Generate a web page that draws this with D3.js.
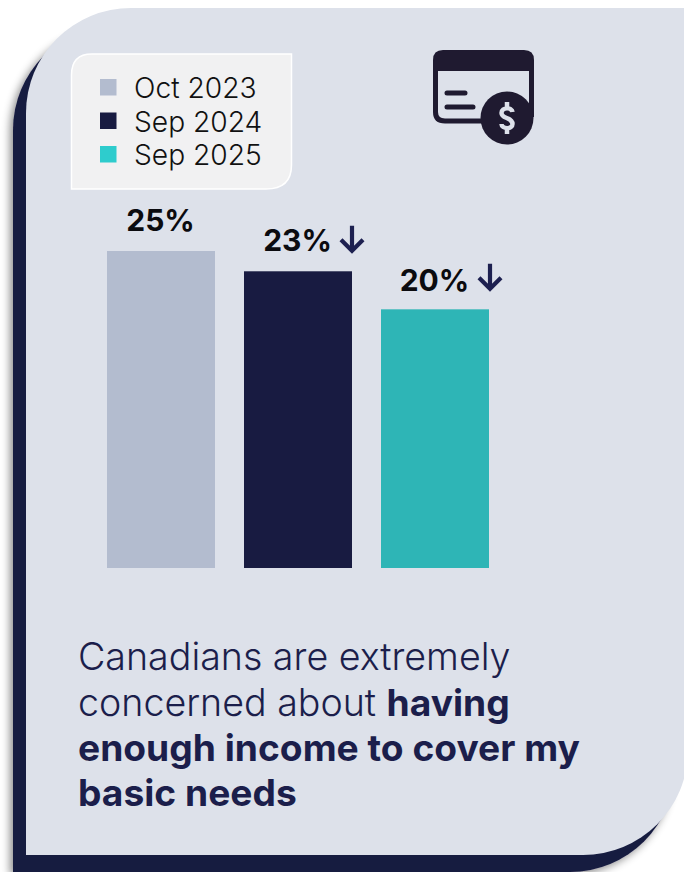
<!DOCTYPE html>
<html>
<head>
<meta charset="utf-8">
<script src="https://cdn.jsdelivr.net/npm/d3@7"></script>
<style>
html,body{margin:0;padding:0;background:#fff;overflow:hidden}
svg{display:block}
text{font-family:Inter,"Noto Sans",sans-serif}
</style>
</head>
<body>
<div id="chart"></div>
<script>
const periods = ["Oct 2023", "Sep 2024", "Sep 2025"];
const values = [25, 23.4, 20.4];
const valueLabels = ["25%", "23%", "20%"];
const declines = [false, true, true];
const barColors = ["#b3bccf", "#181b41", "#2eb5b6"];
const swatchColors = ["#b3bccf", "#181b41", "#2ecccd"];
const captionLines = [
  [["Canadians are extremely", 300]],
  [["concerned about ", 300], ["having", 700]],
  [["enough income to cover my", 700]],
  [["basic needs", 700]]
];

const W = 684, H = 872;
const navy = "#181b41", card = "#dde1ea";
const svg = d3.select("#chart").append("svg").attr("width", W).attr("height", H);

const defs = svg.append("defs");
const f = defs.append("filter").attr("id", "sh").attr("x", "-10%").attr("y", "-10%").attr("width", "120%").attr("height", "120%");
f.append("feDropShadow").attr("dx", -3).attr("dy", 3).attr("stdDeviation", 4).attr("flood-color", "#000").attr("flood-opacity", 0.45);

const panel = "M0,105 A105,105 0 0 1 105,0 H662 V742 A105,105 0 0 1 557,847 H0 Z";
// backing shape
svg.append("path").attr("filter", "url(#sh)").attr("fill", navy)
  .attr("transform", "translate(13,25)").attr("d", panel);
// card
svg.append("path").attr("fill", card)
  .attr("transform", "translate(26,8)").attr("d", panel);

// legend box
svg.append("path").attr("fill", "#f1f1f2").attr("stroke", "#fff").attr("stroke-width", 1.5)
  .attr("d", "M71.5,189 L71.5,75 Q71.5,54 92,54 L291.5,54 L291.5,165 Q291.5,189 266,189 Z");

const legendY = d3.scalePoint().domain(periods).range([87.5, 154.5]);
const legend = svg.append("g").selectAll("g").data(periods).join("g")
  .attr("transform", d => `translate(0,${legendY(d)})`);
legend.append("rect").attr("x", 100).attr("y", -8.5).attr("width", 16.5).attr("height", 16.5)
  .attr("fill", (d, i) => swatchColors[i]);
legend.append("text").attr("x", 134).attr("y", 10.5).attr("font-size", 28.2).attr("font-weight", 300)
  .attr("fill", "#111").text(d => d);

// bars
const x = d3.scaleBand().domain(periods).range([107, 489]).paddingInner(0.2117).paddingOuter(0);
const y = d3.scaleLinear().domain([0, 25]).range([568, 251]);
svg.append("g").selectAll("rect").data(periods).join("rect")
  .attr("x", d => x(d)).attr("width", x.bandwidth())
  .attr("y", (d, i) => y(values[i])).attr("height", (d, i) => y(0) - y(values[i]))
  .attr("fill", (d, i) => barColors[i]);

// value labels
const lab = svg.append("g").selectAll("g").data(periods).join("g")
  .attr("transform", (d, i) => `translate(${x(d) + x.bandwidth() / 2},${y(values[i]) - 20.5})`);
lab.append("text").attr("text-anchor", "middle").attr("font-size", 30).attr("font-weight", 700)
  .attr("fill", "#0b0b0f")
  .attr("dx", -0.5)
  .attr("dy", (d, i) => i === 2 ? 2 : 0)
  .text((d, i) => valueLabels[i]);
lab.filter((d, i) => declines[i]).append("path")
  .attr("fill", "none").attr("stroke", "#1d2050").attr("stroke-width", 4.2)
  .attr("stroke-miterlimit", 6)
  .attr("transform", (d, i) => `translate(${i === 1 ? 55 : 54},${i === 2 ? 3 : 0})`)
  .attr("d", "M0,-25 L0,-1 M-11,-11 L0,0 L11,-11");

// caption
const cap = svg.append("g");
captionLines.forEach((runs, k) => {
  const t = cap.append("text").attr("x", 78).attr("y", 670.4 + k * 45.2).attr("font-size", 37.6).attr("fill", "#1b1e4b");
  runs.forEach(r => t.append("tspan").attr("font-weight", r[1]).attr("font-size", r[1] === 700 ? 37.2 : 37.6).text(r[0]));
});

// card-and-dollar icon
const ic = svg.append("g").attr("transform", "translate(433,51)");
const ink = "#1f1a30";
ic.append("path").attr("fill", ink)
  .attr("d", "M10,-1 H91 Q101,-1 101,9 V20 H0 V9 Q0,-1 10,-1 Z");
ic.append("path").attr("fill", "none").attr("stroke", ink).attr("stroke-width", 5)
  .attr("d", "M2.5,15 V61 Q2.5,70 12,70 H55 M98.5,15 V66");
ic.append("path").attr("fill", "none").attr("stroke", ink).attr("stroke-width", 5).attr("stroke-linecap", "round")
  .attr("d", "M14,42 H32 M14,56 H40");
ic.append("circle").attr("cx", 74).attr("cy", 67).attr("r", 26.5).attr("fill", ink);
ic.append("path").attr("fill", "none").attr("stroke", card).attr("stroke-width", 4.5)
  .attr("d", "M79.5,61 C79,56 68.5,56 68.5,62 C68.5,68 79.5,66 79.5,73 C79.5,79 68.5,78 68.5,73 M74,51 V57 M74,77 V83");
</script>
</body>
</html>
